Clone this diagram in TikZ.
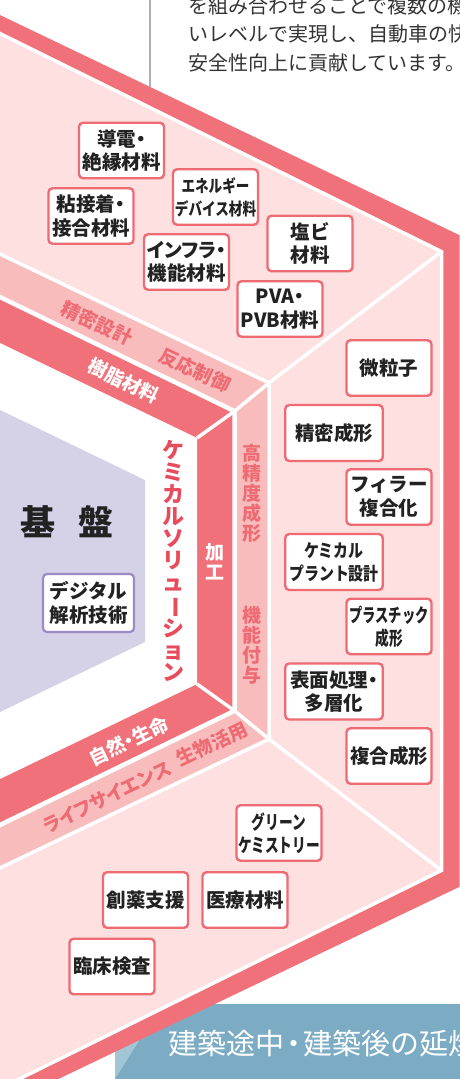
\documentclass[tikz,border=0pt]{standalone}
\usepackage{fontspec}
\setmainfont{Noto Sans CJK JP}
\newfontfamily\jpp{Noto Sans CJK JP}[RawFeature=+palt]
\definecolor{dk}{HTML}{F07179}
\definecolor{md}{HTML}{F8BCBC}
\definecolor{lt}{HTML}{FDE0DF}
\definecolor{lav}{HTML}{D5D2E8}
\definecolor{lavb}{HTML}{9A8BC4}
\definecolor{boxc}{HTML}{EE6B74}
\definecolor{mtxt}{HTML}{EE6B74}
\definecolor{rtxt}{HTML}{E84B5B}
\definecolor{txt}{HTML}{222222}
\definecolor{ptxt}{HTML}{333333}
\definecolor{bn}{HTML}{7BACC4}
\definecolor{bnl}{HTML}{A3C6D6}
\definecolor{gl}{HTML}{B0B0B0}
\newcommand\cnd[2]{\scalebox{#1}[1]{#2}}
\tikzset{
  pbox/.style={draw=boxc, line width=2.4pt, rounded corners=4pt, fill=white, inner sep=0pt, align=center, text=txt, font=\bfseries\fontsize{19.5}{23.5}\selectfont},
  pboxp/.style={font=\bfseries\jpp\fontsize{19.5}{23.5}\selectfont},
  sbox/.style={pbox, minimum width=85pt, minimum height=55.5pt},
  wbox/.style={pbox, minimum width=97.5pt, minimum height=56pt},
  vbox/.style={pbox, draw=lavb, line width=2.2pt, minimum width=91pt, minimum height=58pt},
  bandtxt/.style={inner sep=0pt, font=\bfseries\fontsize{19}{20}\selectfont, text=mtxt},
  darktxt/.style={bandtxt, text=white},
  vtxt/.style={bandtxt, align=center},
  sep/.style={white, line width=3.5pt},
  para/.style={anchor=west, inner sep=0pt, text=ptxt, font=\fontsize{20}{20}\selectfont}
}
\begin{document}
\begin{tikzpicture}[x=1pt,y=-1pt]
\useasboundingbox (0,0) rectangle (460,1079);
\clip (0,0) rectangle (460,1079);
% banner (behind hexagon)
\fill[bn] (115,1004) rectangle (461,1080);
\fill[bnl] (115,1020) -- (152,1020) -- (115,1079) -- cycle;
% gray rule and paragraph
\draw[gl, line width=1.5pt] (150,-2) -- (150,90);
\node[para] (p1) at (188,5.5) {を組み合わせることで複数の機};
\node[para] (p2) at (188,34) {いレベルで実現し、自動車の快};
\node[para] (p3) at (188,62.5) {安全性向上に貢献しています。};
% outer band
\fill[dk] (-60,-13.7) -- (459.5,235.2) -- (459.5,886.8) -- (-60,1135.7) -- cycle;
% light pink region
\filldraw[fill=lt, draw=white, line width=3.5pt] (-60,3.9) -- (441.5,251.6) -- (441.5,870.4) -- (-60,1118.1) -- cycle;
% medium band
\filldraw[fill=md, draw=white, line width=3.5pt] (-60,225.3) -- (269,382.9) -- (269,739.1) -- (-60,896.7) -- cycle;
% dark band
\filldraw[fill=dk, draw=white, line width=4.5pt] (-60,267.8) -- (234.5,411.2) -- (234.5,710.8) -- (-60,854.2) -- cycle;
% inner white
\fill[white] (-60,314.1) -- (197,438) -- (197,684) -- (-60,807.9) -- cycle;
% lavender
\fill[lav] (-60,381) -- (145,480) -- (145,642) -- (-60,741) -- cycle;
% sector separators
\coordinate (s1) at (197,438); \coordinate (s2) at (234.5,411.2);
\coordinate (s3) at (269,382.9); \coordinate (s4) at (441.5,251.6);
\coordinate (t1) at (197,684); \coordinate (t2) at (234.5,710.8);
\coordinate (t3) at (269,739.1); \coordinate (t4) at (441.5,870.4);
\draw[sep] (s1) -- (s2) -- (s3) -- (s4);
\draw[sep] (t1) -- (t2) -- (t3) -- (t4);
% banner text
\node[anchor=west, inner sep=0pt, text=white, font=\fontsize{29}{29}\selectfont] (bt) at (168,1043) {建築途中\kern-5pt・\kern-5pt建築後の延焼};
% band texts
\node[bandtxt, rotate=-25.6] (l1) at (97,323) {精密設計};
\node[bandtxt, rotate=-25.6] (l2) at (195,370) {反応制御};
\node[darktxt, rotate=-25.8] (l3) at (124,381) {樹脂材料};
\node[darktxt, rotate=25.8, font=\bfseries\jpp\fontsize{19}{20}\selectfont] (l4) at (129,741) {自然・生命};
\node[bandtxt, rotate=25.6, font=\bfseries\jpp\fontsize{19}{20}\selectfont] (l5) at (107,797) {ライフサイエンス};
\node[bandtxt, rotate=25.6] (l6) at (212,744) {生物活用};
\node[vtxt, text=white] (v1) at (215,561.5) {加\\工};
\node[vtxt] (v2) at (252,493) {高\\精\\度\\成\\形};
\node[vtxt] (v3) at (252,645) {機\\能\\付\\与};
\node[vtxt, text=rtxt, font=\bfseries\fontsize{22}{22}\selectfont] (chem) at (173,561) {ケ\\ミ\\カ\\ル\\ソ\\リ\\ュ\\\rotatebox[origin=c]{-90}{ー}\\シ\\ョ\\ン};
% base
\node[inner sep=0pt, text=txt, font=\bfseries\fontsize{35}{35}\selectfont] (k1) at (37.5,522) {基};
\node[inner sep=0pt, text=txt, font=\bfseries\fontsize{35}{35}\selectfont] (k2) at (95.5,522) {盤};
\node[vbox] (dg) at (88.5,603) {デジタル\\解析技術};
% boxes top sector
\node[sbox, pboxp] (b1) at (121.5,150.5) {導電・\\絶縁材料};
\node[sbox, font=\bfseries\fontsize{17}{23}\selectfont] (b2) at (215.5,197) {\cnd{0.8}{エネルギー}\\\cnd{0.8}{デバイス材料}};
\node[sbox, pboxp] (b3) at (91,216) {粘接着・\\接合材料};
\node[sbox, pboxp] (b4) at (186.5,262) {インフラ・\\機能材料};
\node[sbox] (b5) at (310,243.5) {塩ビ\\材料};
\node[sbox, pboxp] (b6) at (280,309) {PVA・\\PVB材料};
% boxes right sector
\node[sbox] (b7) at (389,368) {微粒子};
\node[wbox] (b8) at (334,433) {精密成形};
\node[sbox] (b9) at (389,497) {フィラー\\複合化};
\node[wbox, font=\bfseries\fontsize{18}{23}\selectfont] (b10) at (334,562) {\cnd{0.83}{ケミカル}\\\cnd{0.83}{プラント設計}};
\node[sbox, font=\bfseries\fontsize{19}{23}\selectfont] (b11) at (389,626.5) {\cnd{0.7}{プラスチック}\\\cnd{0.72}{成形}};
\node[wbox, pboxp] (b12) at (334,691.5) {表面処理・\\多層化};
\node[sbox] (b13) at (389,756) {複合成形};
% boxes bottom sector
\node[sbox, font=\bfseries\fontsize{19}{23}\selectfont] (b14) at (279,833) {\cnd{0.72}{グリーン}\\\cnd{0.72}{ケミストリー}};
\node[sbox] (b15) at (145.5,900) {創薬支援};
\node[sbox] (b16) at (245,900) {医療材料};
\node[sbox] (b17) at (112,966.5) {臨床検査};
\end{tikzpicture}
\end{document}
